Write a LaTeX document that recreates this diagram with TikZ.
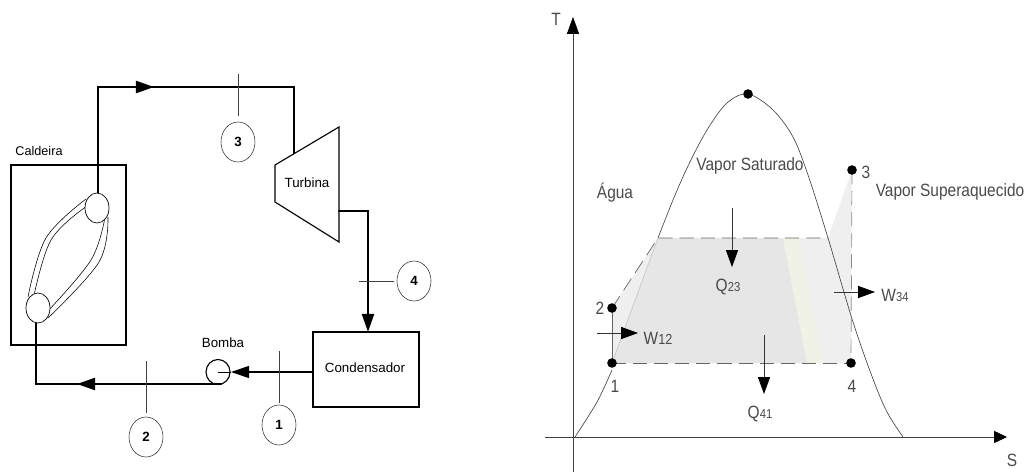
\documentclass[tikz,border=0pt]{standalone}
\usepackage{fontspec}
\usepackage{graphicx}
\setmainfont{Liberation Sans}
\usetikzlibrary{arrows.meta}
\usetikzlibrary{shapes.geometric}

\definecolor{cinzaTexto}{HTML}{4A4A4A}
\definecolor{cinzaCiclo}{HTML}{E6E6E6}
\definecolor{cinzaClaro}{HTML}{EFEFEF}
\definecolor{amareloClaro}{HTML}{F1F2E6}

\newcommand{\alto}[1]{\scalebox{1}[1.15]{#1}}

\tikzset{
    tubo/.style={line width=1.5pt, line cap=round},
    fino/.style={line width=0.45pt, black!75},
    bloco/.style={draw, line width=0.8pt, inner sep=0pt},
    estado/.style={ellipse, draw, line width=0.4pt, black!80, text=black, minimum width=0.85cm, minimum height=1cm, inner sep=0pt, font=\fontsize{9.5}{11}\selectfont\bfseries},
    tambor/.style={ellipse, draw, line width=0.5pt, fill=white, minimum width=0.6cm, minimum height=0.75cm, inner sep=0pt},
    rotulo/.style={inner sep=0pt, font=\fontsize{9.5}{11}\selectfont},
    texto/.style={inner sep=0pt, text=cinzaTexto, font=\fontsize{11}{13}\selectfont},
    ponto/.style={circle, fill=black, inner sep=0pt, minimum size=0.24cm},
    ponta/.style={-{Triangle[length=0.45cm, width=0.3cm]}},
    seta/.style={line width=0.5pt, black!80, -{Triangle[length=0.42cm, width=0.3cm, color=black, fill=black]}}
}

\begin{document}
\begin{tikzpicture}[x=0.025cm, y=-0.025cm]
    \useasboundingbox (0, 0) rectangle (1025, 472);

    % Equipamentos
    \node[bloco, minimum width=2.875cm, minimum height=4.5cm] (caldeira) at (68.5, 255) {};
    \node[bloco, minimum width=2.65cm, minimum height=1.875cm] (condensador) at (366, 369.5) {};
    \node[rotulo, font=\fontsize{9}{11}\selectfont] (txtcaldeira) at (39, 151) {Caldeira};
    \node[rotulo] (txtcondensador) at (365, 368) {Condensador};
    \node[rotulo] (txtturbina) at (307, 183) {Turbina};
    \node[rotulo] (txtbomba) at (223, 343) {Bomba};

    \coordinate (t1) at (275, 165);
    \coordinate (t2) at (339, 127);
    \coordinate (t3) at (339, 242);
    \coordinate (t4) at (275, 202);
    \draw[line width=0.8pt] (t1) -- (t2) -- (t3) -- (t4) -- cycle;

    % Tubos da caldeira
    \coordinate (a1) at (86, 199);
    \coordinate (a2) at (46, 238);
    \coordinate (a3) at (28, 297);
    \coordinate (b1) at (87, 206);
    \coordinate (b2) at (51, 240);
    \coordinate (b3) at (33, 300);
    \coordinate (c1) at (108, 217);
    \coordinate (c2) at (99, 262);
    \coordinate (c3) at (48, 318);
    \coordinate (d1) at (105, 217);
    \coordinate (d2) at (91, 260);
    \coordinate (d3) at (47, 312);
    \draw[line width=0.4pt] plot[smooth, tension=0.6] coordinates {(a1) (a2) (a3)};
    \draw[line width=0.4pt] plot[smooth, tension=0.6] coordinates {(b1) (b2) (b3)};
    \draw[line width=0.4pt] plot[smooth, tension=0.6] coordinates {(c1) (c2) (c3)};
    \draw[line width=0.4pt] plot[smooth, tension=0.6] coordinates {(d1) (d2) (d3)};
    \node[tambor] (tamborsup) at (97, 208) {};
    \node[tambor] (tamborinf) at (38, 308) {};
    \node[tambor, line width=0.8pt, minimum width=0.6cm, minimum height=0.625cm] (bomba) at (218, 372) {};

    % Linhas do ciclo
    \coordinate (cantoA) at (98, 87);
    \coordinate (setaA) at (154, 87);
    \coordinate (cantoB) at (294, 87);
    \coordinate (entrada) at (294, 153);
    \coordinate (saida) at (339, 211);
    \coordinate (cantoC) at (368, 211);
    \coordinate (chegada) at (368, 332);
    \coordinate (partida) at (314, 372);
    \coordinate (pontaB) at (231, 372);
    \coordinate (baseB) at (221, 384);
    \coordinate (setaD) at (77, 384);
    \coordinate (cantoD) at (36, 384);
    \draw[tubo] (tamborsup.north -| cantoA) -- (cantoA) -- (cantoB) -- (entrada);
    \draw[tubo, ponta] (cantoA) -- (setaA);
    \draw[tubo, ponta] (saida) -- (cantoC) -- (chegada);
    \draw[line width=0.8pt, ponta] (partida) -- (pontaB);
    \draw[line width=0.5pt] (pontaB) -- (bomba.center);
    \draw[tubo] (baseB) -- (cantoD) -- (cantoD |- tamborinf.south);
    \draw[tubo, ponta] (baseB) -- (setaD);

    % Estados
    \node[estado] (e1) at (279, 425) {1};
    \node[estado] (e2) at (146, 437) {2};
    \node[estado] (e3) at (238, 142) {3};
    \node[estado] (e4) at (414, 281) {4};
    \coordinate (m1) at (279, 351);
    \coordinate (m2) at (146, 361);
    \coordinate (m3) at (238, 74);
    \coordinate (m4) at (359, 281);
    \draw[fino, shorten >=0.05cm] (m1) -- (e1.north);
    \draw[fino, shorten >=0.1cm] (m2) -- (e2.north);
    \draw[fino, shorten >=0.15cm] (m3) -- (e3.north);
    \draw[fino, shorten >=0.07cm] (m4) -- (e4.west);

    % Areas do diagrama
    \coordinate (p2) at (612, 308);
    \coordinate (p1) at (612, 363);
    \coordinate (p3) at (852, 170);
    \coordinate (p4) at (851, 363);
    \coordinate (sl) at (658, 238);
    \coordinate (sr) at (828, 238);
    \fill[cinzaClaro] (p2) -- (sl) -- (sr) -- (p3) -- (p4) -- (p1) -- cycle;
    \fill[cinzaCiclo] (p1) -- (sl) -- (783, 238) -- (807, 363) -- cycle;
    \fill[amareloClaro] (783, 238) -- (798, 238) -- (823, 363) -- (807, 363) -- cycle;

    % Eixos
    \coordinate (eixoT0) at (573, 472);
    \coordinate (eixoT1) at (573, 17);
    \coordinate (eixoS0) at (545, 437);
    \coordinate (eixoS1) at (1007, 437);
    \draw[fino, -{Triangle[length=0.42cm, width=0.3cm, color=black, fill=black]}] (eixoT0) -- (eixoT1);
    \draw[fino, -{Triangle[length=0.32cm, width=0.3cm, color=black, fill=black]}] (eixoS0) -- (eixoS1);

    % Curva de saturacao
    \draw[line width=0.45pt, black!75] plot[smooth, tension=0.55] coordinates {(575, 437) (597, 402) (612, 370)};
    \draw[line width=0.45pt, black!22] (p1) -- (sl);
    \draw[line width=0.45pt, black!75] plot[smooth, tension=0.55] coordinates {(sl) (673, 200) (688, 166) (707, 130) (727, 103) (748, 94) (773, 110) (793, 137) (808, 175) (sr) (853, 322) (873, 379) (887, 412) (903, 437)};

    % Trechos tracejados
    \draw[line width=0.5pt, black!60, dashed, dash pattern=on 10pt off 5pt] (p2) -- (sl) -- (sr);
    \draw[line width=0.5pt, black!45, dashed, dash pattern=on 10pt off 5pt] (p3) -- (p4);
    \draw[line width=0.5pt, black!60, dashed, dash pattern=on 10pt off 5pt] (p1) -- (p4);
    \draw[line width=0.45pt, black!60] (p1) -- (p2);

    % Pontos
    \node[ponto] (topo) at (748, 94) {};
    \node[ponto] (n1) at (612, 363) {};
    \node[ponto] (n2) at (612, 308) {};
    \node[ponto] (n3) at (852, 170) {};
    \node[ponto] (n4) at (851, 363) {};

    % Setas de calor e trabalho
    \coordinate (q23a) at (732, 208);
    \coordinate (q23b) at (732, 267);
    \coordinate (q41a) at (764, 335);
    \coordinate (q41b) at (764, 394);
    \coordinate (w12a) at (597, 333);
    \coordinate (w12b) at (638, 333);
    \coordinate (w34a) at (834, 292);
    \coordinate (w34b) at (875, 292);
    \draw[seta] (q23a) -- (q23b);
    \draw[seta] (q41a) -- (q41b);
    \draw[seta] (w12a) -- (w12b);
    \draw[seta] (w34a) -- (w34b);

    % Textos do diagrama
    \node[texto] (txtT) at (556, 19) {\alto{T}};
    \node[texto] (txtS) at (1012, 460) {\alto{S}};
    \node[texto] (txtsat) at (750, 166) {\alto{Vapor Saturado}};
    \node[texto] (txtagua) at (615, 193) {\alto{Água}};
    \node[texto] (txtsup) at (950, 192) {\alto{Vapor Superaquecido}};
    \node[texto] (txt1) at (615, 386) {\alto{1}};
    \node[texto] (txt2) at (600, 308) {\alto{2}};
    \node[texto] (txt3) at (866, 172) {\alto{3}};
    \node[texto] (txt4) at (852, 386) {\alto{4}};
    \node[texto] (txtq23) at (728, 287) {\alto{Q{\fontsize{8}{9}\selectfont 23}}};
    \node[texto] (txtq41) at (760, 414) {\alto{Q{\fontsize{8}{9}\selectfont 41}}};
    \node[texto] (txtw12) at (658, 338) {\alto{W{\fontsize{9}{9}\selectfont 12}}};
    \node[texto] (txtw34) at (895, 295) {\alto{W{\fontsize{8}{9}\selectfont 34}}};
\end{tikzpicture}
\end{document}
